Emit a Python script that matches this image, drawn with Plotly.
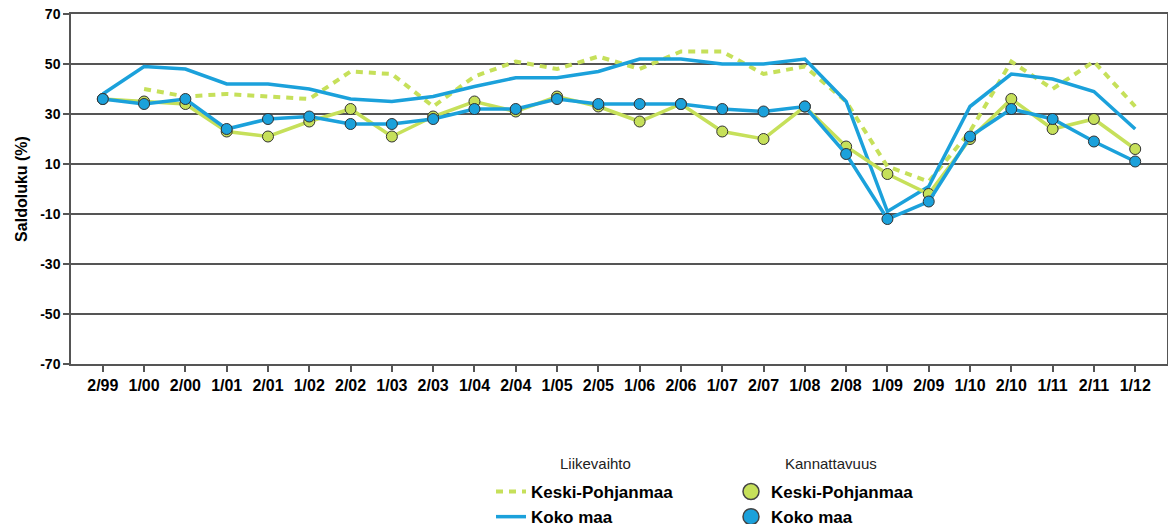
import plotly.graph_objects as go

periods = ["2/99", "1/00", "2/00", "1/01", "2/01", "1/02", "2/02", "1/03", "2/03",
           "1/04", "2/04", "1/05", "2/05", "1/06", "2/06", "1/07", "2/07", "1/08",
           "2/08", "1/09", "2/09", "1/10", "2/10", "1/11", "2/11", "1/12"]

# Liikevaihto (turnover)
liike_kp = [None, 40, 37, 38, 37, 36, 47, 46, 33, 45, 51, 48, 53, 48, 55, 55, 46, 49,
            35, 9, 3, 23, 51, 40, 51, 33]
liike_koko = [38, 49, 48, 42, 42, 40, 36, 35, 37, 41, 44.5, 44.5, 47, 52, 52, 50, 50, 52,
              35, -9, 1, 33, 46, 44, 39, 24]

# Kannattavuus (profitability)
kann_kp = [36, 35, 34, 23, 21, 27, 32, 21, 29, 35, 31, 37, 33, 27, 34, 23, 20, 33,
           17, 6, -2, 20, 36, 24, 28, 16]
kann_koko = [36, 34, 36, 24, 28, 29, 26, 26, 28, 32, 32, 36, 34, 34, 34, 32, 31, 33,
             14, -12, -5, 21, 32, 28, 19, 11]

y_ticks = [-70, -50, -30, -10, 10, 30, 50, 70]
y_tick_labels = [str(v) for v in y_ticks]

GREEN = "#C6E05A"
BLUE = "#1BA1DB"
FONT = "Liberation Sans, Arial, sans-serif"

fig = go.Figure()

fig.add_trace(go.Scatter(x=periods, y=liike_kp, mode="lines", name="Keski-Pohjanmaa",
                         line=dict(color=GREEN, width=4, dash="7px,6px"),
                         legend="legend", connectgaps=False))
fig.add_trace(go.Scatter(x=periods, y=liike_koko, mode="lines", name="Koko maa",
                         line=dict(color=BLUE, width=3.5),
                         legend="legend"))

fig.add_trace(go.Scatter(x=periods, y=kann_kp, mode="lines+markers", name="Keski-Pohjanmaa",
                         line=dict(color=GREEN, width=3.5),
                         marker=dict(size=11, color=GREEN, line=dict(color="#333333", width=1)),
                         showlegend=False, legend="legend2"))
fig.add_trace(go.Scatter(x=periods, y=kann_koko, mode="lines+markers", name="Koko maa",
                         line=dict(color=BLUE, width=3.5),
                         marker=dict(size=11, color=BLUE, line=dict(color="#333333", width=1)),
                         showlegend=False, legend="legend2"))

# legend-only entries for the profitability series (larger symbols, as in the original legend)
fig.add_trace(go.Scatter(x=[None], y=[None], mode="markers", name="Keski-Pohjanmaa",
                         marker=dict(size=16, color=GREEN, line=dict(color="#444444", width=1.5)),
                         legend="legend2"))
fig.add_trace(go.Scatter(x=[None], y=[None], mode="markers", name="Koko maa",
                         marker=dict(size=16, color=BLUE, line=dict(color="#444444", width=1.5)),
                         legend="legend2"))

# the page body has an 8px margin; work in page pixels and convert
BODY = 8
FIG_W, FIG_H = 1176 - 2 * BODY, 532 - 2 * BODY
PLOT_L, PLOT_R, PLOT_T, PLOT_B = 71, 1167, 14, 364  # page pixels
PW, PH = PLOT_R - PLOT_L, PLOT_B - PLOT_T


def px_to_paper_x(px):
    return (px - PLOT_L) / PW


def px_to_paper_y(py):
    return (PLOT_B - py) / PH


legend_common = dict(
    orientation="v",
    xanchor="left", yanchor="top",
    font=dict(family=FONT, size=17, color="#000000", weight="bold"),
    bgcolor="rgba(0,0,0,0)",
    tracegroupgap=0,
    itemwidth=30,
)

fig.update_layout(
    width=FIG_W, height=FIG_H,
    margin=dict(l=PLOT_L - BODY, r=FIG_W - (PLOT_R - BODY), t=PLOT_T - BODY,
                b=FIG_H - (PLOT_B - BODY), autoexpand=False),
    paper_bgcolor="white", plot_bgcolor="white",
    font=dict(family=FONT, color="#000000"),
    legend=dict(**legend_common, x=px_to_paper_x(491), y=px_to_paper_y(474)),
    legend2=dict(**legend_common, x=px_to_paper_x(731), y=px_to_paper_y(474)),
    annotations=[
        dict(text="Liikevaihto", xref="paper", yref="paper",
             x=px_to_paper_x(595), y=px_to_paper_y(463), xanchor="center", yanchor="middle",
             showarrow=False, font=dict(family=FONT, size=15, color="#222222")),
        dict(text="Kannattavuus", xref="paper", yref="paper",
             x=px_to_paper_x(831), y=px_to_paper_y(463), xanchor="center", yanchor="middle",
             showarrow=False, font=dict(family=FONT, size=15, color="#222222")),
    ],
    xaxis=dict(
        type="category", categoryorder="array", categoryarray=periods,
        range=[-0.77, 25.77],
        showgrid=False, zeroline=False,
        showline=True, linecolor="#555555", linewidth=1.5, mirror=True,
        ticks="outside", ticklen=6, tickcolor="#555555", tickwidth=1.5,
        tickangle=0,
        tickfont=dict(family=FONT, size=16, color="#000000", weight="bold"),
    ),
    yaxis=dict(
        range=[-70, 70], tickvals=y_ticks, ticktext=y_tick_labels,
        ticklabeloverflow="allow",
        showgrid=True, gridcolor="#555555", gridwidth=1.5,
        zeroline=False,
        showline=True, linecolor="#555555", linewidth=1.5, mirror=True,
        ticks="outside", ticklen=6, tickcolor="#555555", tickwidth=1.5,
        tickfont=dict(family=FONT, size=14, color="#000000", weight="bold"),
        title=dict(text="Saldoluku (%)", standoff=9,
                   font=dict(family=FONT, size=16, color="#000000", weight="bold")),
    ),
)

fig.write_html("out.html")
